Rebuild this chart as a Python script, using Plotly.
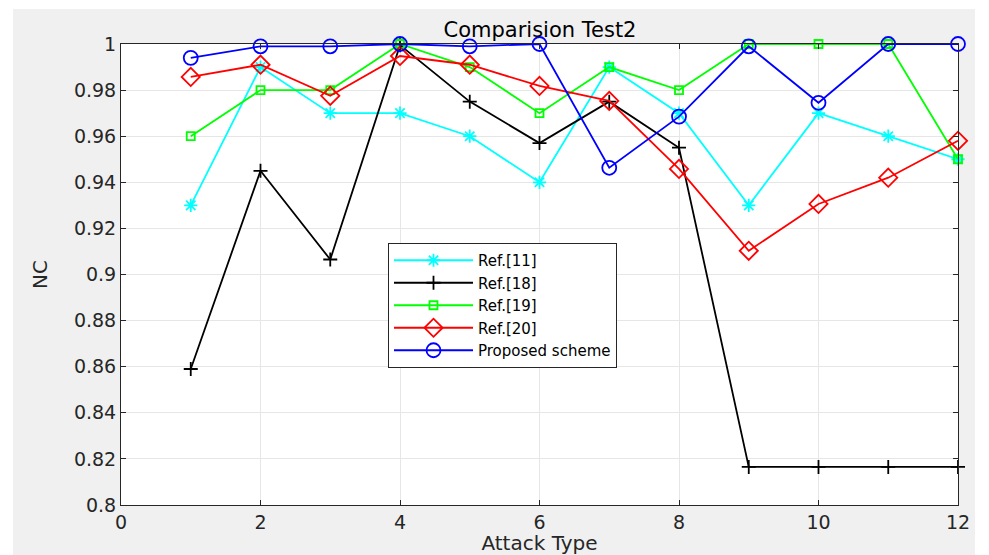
import plotly.graph_objects as go

attack = list(range(1, 13))
ref11 = [0.93, 0.99, 0.97, 0.97, 0.96, 0.94, 0.99, 0.97, 0.93, 0.97, 0.96, 0.95]
ref18 = [0.859, 0.945, 0.9065, 0.9995, 0.975, 0.957, 0.975, 0.955, 0.8165, 0.8165, 0.8165, 0.8165]
ref19 = [0.96, 0.98, 0.98, 1.0, 0.99, 0.97, 0.99, 0.98, 1.0, 1.0, 1.0, 0.95]
ref20 = [0.9857, 0.991, 0.9775, 0.9948, 0.991, 0.9818, 0.9753, 0.9458, 0.9103, 0.9306, 0.942, 0.958]
proposed = [0.994, 0.999, 0.999, 1.0, 0.999, 1.0, 0.9463, 0.9685, 0.999, 0.9745, 1.0, 1.0]

names = ["Ref.[11]", "Ref.[18]", "Ref.[19]", "Ref.[20]", "Proposed scheme"]
colors = ["#00ffff", "#000000", "#00ff00", "#ff0000", "#0000ff"]
symbols = ["asterisk-open", "cross-thin-open", "square-open", "diamond-open", "circle-open"]
sizes = [11, 10, 8, 14, 14]
series = [ref11, ref18, ref19, ref20, proposed]

xticks = [0, 2, 4, 6, 8, 10, 12]
yticks = [0.8, 0.82, 0.84, 0.86, 0.88, 0.9, 0.92, 0.94, 0.96, 0.98, 1.0]
yticklabels = ["0.8", "0.82", "0.84", "0.86", "0.88", "0.9", "0.92", "0.94", "0.96", "0.98", "1"]

fig = go.Figure()
for n, c, s, sz, y in zip(names, colors, symbols, sizes, series):
    fig.add_trace(go.Scatter(
        x=attack, y=y, name=n, mode="lines+markers",
        line=dict(color=c, width=1.8),
        marker=dict(symbol=s, size=sz, color=c, line=dict(color=c, width=1.8)),
        cliponaxis=False,
    ))

# figure is placed at an 8px page offset (body margin)
W, H = 981, 547
L, T, R, B = 113, 36, 31, 50
PW, PH = W - L - R, H - T - B

font = "DejaVu Sans, Liberation Sans, Arial, sans-serif"
axcol = "#262626"
fig.update_layout(
    width=W, height=H,
    margin=dict(l=L, r=R, t=T, b=B, autoexpand=False),
    paper_bgcolor="#f0f0f0",
    plot_bgcolor="white",
    font=dict(family=font, size=19, color=axcol),
    title=dict(text="Comparision Test2", x=(532 / W), xanchor="center",
               xref="container", yref="container", y=1 - 22 / H, yanchor="middle",
               font=dict(size=21, color="#000000")),
    showlegend=True,
    legend=dict(x=(380 - L) / PW, y=(H - B - 235) / PH, xanchor="left", yanchor="top",
                bgcolor="white", bordercolor=axcol, borderwidth=1,
                font=dict(size=15, color="#000000"), tracegroupgap=0,
                itemwidth=79),
    xaxis=dict(range=[0, 12], tickvals=xticks, ticktext=[str(v) for v in xticks],
               showgrid=True, gridcolor="#e6e6e6", gridwidth=1, zeroline=False,
               showline=True, linecolor=axcol, linewidth=1, mirror="ticks",
               ticks="inside", ticklen=5, tickcolor=axcol, automargin=False,
               title=dict(text="Attack Type", font=dict(size=20), standoff=4)),
    yaxis=dict(range=[0.8, 1.0], tickvals=yticks, ticktext=yticklabels,
               showgrid=True, gridcolor="#e6e6e6", gridwidth=1, zeroline=False,
               showline=True, linecolor=axcol, linewidth=1, mirror="ticks",
               ticks="inside", ticklen=5, tickcolor=axcol, automargin=False,
               title=dict(text="NC", font=dict(size=20), standoff=20)),
    shapes=[
        dict(type="rect", xref="paper", yref="paper", x0=-0.2, x1=1.1,
             y0=(H - B - 1) / PH, y1=1.2, fillcolor="white", line=dict(width=0), layer="above"),
        dict(type="rect", xref="paper", yref="paper", x0=-0.2, x1=(5 - L) / PW,
             y0=-0.2, y1=1.2, fillcolor="white", line=dict(width=0), layer="above"),
        dict(type="rect", xref="paper", yref="paper", x0=(967 - L) / PW, x1=1.1,
             y0=-0.2, y1=1.2, fillcolor="white", line=dict(width=0), layer="above"),
    ],
)

fig.write_html("out.html")
